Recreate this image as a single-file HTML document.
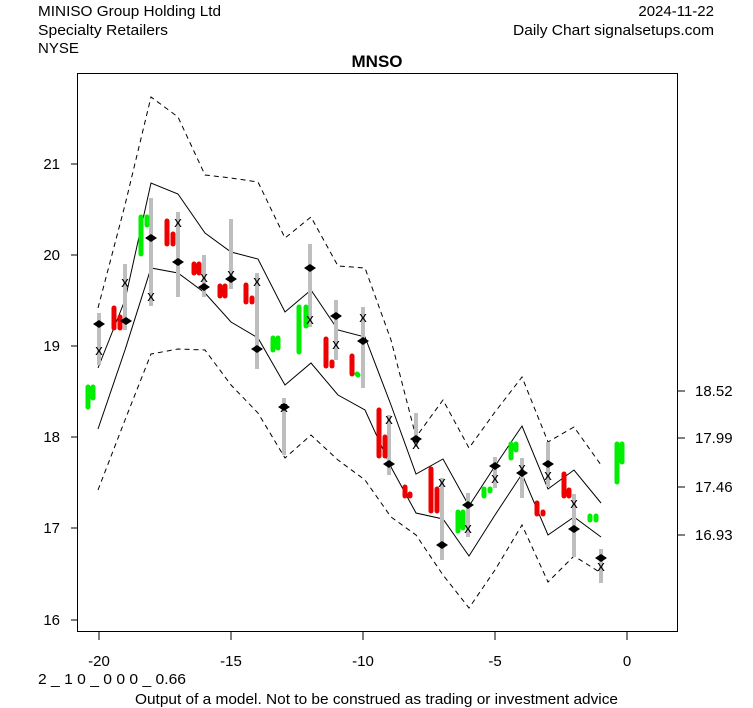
<!DOCTYPE html>
<html><head><meta charset="utf-8"><style>
body{margin:0;background:#fff}
svg{display:block}
text{font-family:"Liberation Sans",sans-serif;font-size:15px;fill:#000}
</style></head><body>
<svg width="753" height="708" viewBox="0 0 753 708" xmlns="http://www.w3.org/2000/svg">
<rect width="753" height="708" fill="#fff"/>
<text x="38" y="16" textLength="183" lengthAdjust="spacingAndGlyphs">MINISO Group Holding Ltd</text>
<text x="38" y="35" textLength="130" lengthAdjust="spacingAndGlyphs">Specialty Retailers</text>
<text x="38" y="53">NYSE</text>
<text x="714" y="16" text-anchor="end">2024-11-22</text>
<text x="714" y="35" text-anchor="end" textLength="201" lengthAdjust="spacingAndGlyphs">Daily Chart signalsetups.com</text>
<text x="377" y="67" text-anchor="middle" style="font-weight:bold;font-size:17px">MNSO</text>
<rect x="77.5" y="73.5" width="600" height="558" fill="none" stroke="#000"/>
<g stroke="#000">
<line x1="71" y1="164" x2="78" y2="164"/><line x1="71" y1="255" x2="78" y2="255"/><line x1="71" y1="346" x2="78" y2="346"/><line x1="71" y1="437" x2="78" y2="437"/><line x1="71" y1="528" x2="78" y2="528"/><line x1="71" y1="620" x2="78" y2="620"/>
<line x1="99" y1="632" x2="99" y2="640"/><line x1="231" y1="632" x2="231" y2="640"/><line x1="363" y1="632" x2="363" y2="640"/><line x1="495" y1="632" x2="495" y2="640"/><line x1="627" y1="632" x2="627" y2="640"/>
<line x1="678" y1="391" x2="685" y2="391"/><line x1="678" y1="438" x2="685" y2="438"/><line x1="678" y1="487" x2="685" y2="487"/><line x1="678" y1="535" x2="685" y2="535"/>
</g>
<g text-anchor="end"><text x="60" y="169">21</text><text x="60" y="260">20</text><text x="60" y="351">19</text><text x="60" y="442">18</text><text x="60" y="533">17</text><text x="60" y="625">16</text></g>
<text x="695" y="396">18.52</text><text x="695" y="443">17.99</text><text x="695" y="492">17.46</text><text x="695" y="540">16.93</text>
<g text-anchor="middle"><text x="99" y="666">-20</text><text x="231" y="666">-15</text><text x="363" y="666">-10</text><text x="495" y="666">-5</text><text x="627" y="666">0</text></g>
<text x="38" y="684" textLength="148" lengthAdjust="spacingAndGlyphs">2 _ 1 0 _ 0 0 0 _ 0.66</text>
<text x="135" y="704" textLength="483" lengthAdjust="spacingAndGlyphs">Output of a model. Not to be construed as trading or investment advice</text>

<g fill="none" stroke="#000" stroke-width="1">
<polyline points="98,368 125,300 151,183 178,194 205,233 231,252 258,259 285,312 311,290 338,330 365,337 391,405 416,474 443,459 469,506 495,466 522,426 548,489 574,470 601,503"/>
<polyline points="98,429 125,350 151,268 178,273 205,293 231,322 258,338 285,385 311,363 338,395 365,410 391,467 416,513 443,519 469,556 495,515 522,474 548,535 574,517 601,537"/>
<g stroke-dasharray="5,4">
<polyline points="98,308 125,205 151,97 178,117 205,175 231,178 258,182 285,238 311,217 338,266 365,268 391,340 416,437 443,400 469,448 495,412 522,377 548,442 574,427 601,465"/>
<polyline points="98,490 125,420 151,354 178,349 205,350 231,385 258,413 285,458 311,435 338,460 365,480 391,517 416,535 443,575 469,608 495,570 522,525 548,582 574,556 601,573"/>
</g></g>

<g stroke="#bebebe" stroke-width="4">
<line x1="99" y1="313" x2="99" y2="365"/><line x1="125" y1="264" x2="125" y2="330"/><line x1="151" y1="198" x2="151" y2="306"/><line x1="178" y1="212" x2="178" y2="297"/><line x1="204" y1="255" x2="204" y2="297"/><line x1="231" y1="219" x2="231" y2="289"/><line x1="257" y1="273" x2="257" y2="369"/><line x1="284" y1="398" x2="284" y2="455"/><line x1="310" y1="244" x2="310" y2="327"/><line x1="336" y1="300" x2="336" y2="360"/><line x1="363" y1="307" x2="363" y2="388"/><line x1="389" y1="415" x2="389" y2="475"/><line x1="416" y1="413" x2="416" y2="447"/><line x1="442" y1="478" x2="442" y2="560"/><line x1="468" y1="493" x2="468" y2="537"/><line x1="495" y1="457" x2="495" y2="488"/><line x1="522" y1="458" x2="522" y2="498"/><line x1="548" y1="442" x2="548" y2="487"/><line x1="574" y1="494" x2="574" y2="557"/><line x1="601" y1="549" x2="601" y2="583"/>
</g>

<g stroke-width="5" stroke-linecap="round">
<g stroke="#00ee00">
<line x1="88" y1="387" x2="88" y2="407"/><line x1="93" y1="387" x2="93" y2="398"/>
<line x1="141" y1="217" x2="141" y2="254"/><line x1="147" y1="217" x2="147" y2="225"/>
<line x1="273" y1="338" x2="273" y2="350"/><line x1="278" y1="338" x2="278" y2="348"/>
<line x1="299" y1="307" x2="299" y2="352"/><line x1="306" y1="307" x2="306" y2="326"/>
<line x1="357" y1="374" x2="358" y2="375"/>
<line x1="458" y1="512" x2="458" y2="531"/><line x1="463" y1="512" x2="463" y2="528"/>
<line x1="484" y1="489" x2="484" y2="496"/><line x1="490" y1="489" x2="490" y2="491"/>
<line x1="511" y1="444" x2="511" y2="458"/><line x1="516" y1="444" x2="516" y2="450"/>
<line x1="590" y1="516" x2="590" y2="520"/><line x1="596" y1="516" x2="596" y2="520"/>
<line x1="617" y1="444" x2="617" y2="482"/><line x1="622" y1="444" x2="622" y2="462"/>
</g>
<g stroke="#ee0000">
<line x1="114" y1="308" x2="114" y2="328"/><line x1="120" y1="317" x2="120" y2="328"/>
<line x1="167" y1="221" x2="167" y2="244"/><line x1="173" y1="234" x2="173" y2="244"/>
<line x1="194" y1="264" x2="194" y2="273"/><line x1="199" y1="264" x2="199" y2="273"/>
<line x1="220" y1="286" x2="220" y2="296"/><line x1="225" y1="286" x2="225" y2="296"/>
<line x1="246" y1="285" x2="246" y2="302"/><line x1="252" y1="298" x2="252" y2="302"/>
<line x1="326" y1="339" x2="326" y2="366"/><line x1="332" y1="362" x2="332" y2="366"/>
<line x1="352" y1="356" x2="352" y2="374"/>
<line x1="379" y1="410" x2="379" y2="456"/><line x1="385" y1="437" x2="385" y2="456"/>
<line x1="405" y1="487" x2="405" y2="496"/><line x1="410" y1="494" x2="410" y2="496"/>
<line x1="431" y1="469" x2="431" y2="511"/><line x1="437" y1="489" x2="437" y2="511"/>
<line x1="537" y1="503" x2="537" y2="514"/><line x1="543" y1="512" x2="543" y2="514"/>
<line x1="564" y1="474" x2="564" y2="496"/><line x1="569" y1="490" x2="569" y2="496"/>
</g></g>

<g fill="#000">
<path d="M93,324 l6,-4 l6,4 l-6,4z"/><path d="M120,321 l6,-4 l6,4 l-6,4z"/><path d="M145,238 l6,-4 l6,4 l-6,4z"/><path d="M172,262 l6,-4 l6,4 l-6,4z"/><path d="M198,287 l6,-4 l6,4 l-6,4z"/><path d="M225,279 l6,-4 l6,4 l-6,4z"/><path d="M251,349 l6,-4 l6,4 l-6,4z"/><path d="M278,407 l6,-4 l6,4 l-6,4z"/><path d="M304,268 l6,-4 l6,4 l-6,4z"/><path d="M330,316 l6,-4 l6,4 l-6,4z"/><path d="M357,341 l6,-4 l6,4 l-6,4z"/><path d="M383,464 l6,-4 l6,4 l-6,4z"/><path d="M410,439 l6,-4 l6,4 l-6,4z"/><path d="M436,545 l6,-4 l6,4 l-6,4z"/><path d="M462,505 l6,-4 l6,4 l-6,4z"/><path d="M489,466 l6,-4 l6,4 l-6,4z"/><path d="M516,473 l6,-4 l6,4 l-6,4z"/><path d="M542,464 l6,-4 l6,4 l-6,4z"/><path d="M568,529 l6,-4 l6,4 l-6,4z"/><path d="M595,558 l6,-4 l6,4 l-6,4z"/>
</g>
<g text-anchor="middle" style="font-size:11px">
<text x="99" y="355">x</text><text x="125" y="287">x</text><text x="151" y="301">x</text><text x="178" y="227">x</text><text x="204" y="282">x</text><text x="231" y="279">x</text><text x="257" y="286">x</text><text x="284" y="412">x</text><text x="310" y="324">x</text><text x="336" y="349">x</text><text x="363" y="322">x</text><text x="389" y="424">x</text><text x="416" y="449">x</text><text x="442" y="487">x</text><text x="468" y="533">x</text><text x="495" y="483">x</text><text x="522" y="473">x</text><text x="548" y="480">x</text><text x="574" y="508">x</text><text x="601" y="571">x</text>
</g>
</svg>
</body></html>
